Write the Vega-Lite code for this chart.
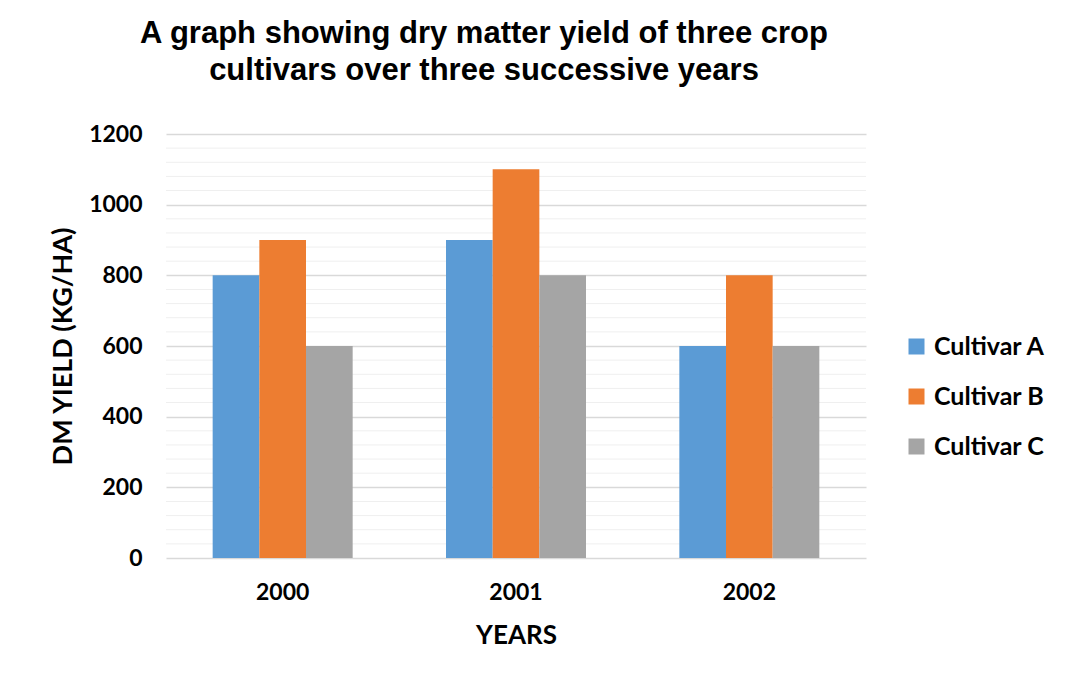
{
  "$schema": "https://vega.github.io/schema/vega-lite/v6.json",
  "width": 700,
  "height": 424,
  "autosize": {"type": "none"},
  "padding": {"left": 166, "top": 134, "right": 206, "bottom": 128},
  "background": "white",
  "title": {
    "text": ["A graph showing dry matter yield of three crop", "cultivars over three successive years"],
    "font": "Liberation Sans",
    "fontSize": 31,
    "fontWeight": "bold",
    "color": "black",
    "anchor": "middle",
    "dx": -32,
    "lineHeight": 37,
    "offset": 36
  },
  "data": {
    "values": [
      {"year": "2000", "cultivar": "Cultivar A", "yield": 800},
      {"year": "2000", "cultivar": "Cultivar B", "yield": 900},
      {"year": "2000", "cultivar": "Cultivar C", "yield": 600},
      {"year": "2001", "cultivar": "Cultivar A", "yield": 900},
      {"year": "2001", "cultivar": "Cultivar B", "yield": 1100},
      {"year": "2001", "cultivar": "Cultivar C", "yield": 800},
      {"year": "2002", "cultivar": "Cultivar A", "yield": 600},
      {"year": "2002", "cultivar": "Cultivar B", "yield": 800},
      {"year": "2002", "cultivar": "Cultivar C", "yield": 600}
    ]
  },
  "layer": [
    {
      "mark": {"type": "rule", "color": "#efefef", "strokeWidth": 1},
      "data": {"values": [{"v": 40}, {"v": 80}, {"v": 120}, {"v": 160}, {"v": 240}, {"v": 280}, {"v": 320}, {"v": 360}, {"v": 440}, {"v": 480}, {"v": 520}, {"v": 560}, {"v": 640}, {"v": 680}, {"v": 720}, {"v": 760}, {"v": 840}, {"v": 880}, {"v": 920}, {"v": 960}, {"v": 1040}, {"v": 1080}, {"v": 1120}, {"v": 1160}]},
      "encoding": {"y": {"field": "v", "type": "quantitative"}}
    },
    {
      "mark": {"type": "bar"},
      "encoding": {
        "x": {
          "field": "year",
          "type": "nominal",
          "scale": {"paddingInner": 0.4, "paddingOuter": 0.2},
          "axis": {
            "title": "YEARS",
            "labelAngle": 0,
            "labelFont": "Lato",
            "labelFontSize": 23,
            "labelFontWeight": "bold",
            "labelColor": "black",
            "labelPadding": 23,
            "ticks": false,
            "domain": false,
            "titleFont": "Lato",
            "titleFontSize": 26,
            "titleFontWeight": "bold",
            "titleColor": "black",
            "titlePadding": 18
          }
        },
        "xOffset": {"field": "cultivar", "type": "nominal"},
        "y": {
          "field": "yield",
          "type": "quantitative",
          "scale": {"domain": [0, 1200]},
          "axis": {
            "title": "DM YIELD (KG/HA)",
            "values": [0, 200, 400, 600, 800, 1000, 1200],
            "format": "d",
            "grid": true,
            "gridColor": "#d9d9d9",
            "gridWidth": 1.5,
            "ticks": false,
            "domain": false,
            "labelFont": "Lato",
            "labelFontSize": 23,
            "labelFontWeight": "bold",
            "labelColor": "black",
            "labelPadding": 24,
            "titleFont": "Lato",
            "titleFontSize": 27,
            "titleFontWeight": "bold",
            "titleColor": "black",
            "titlePadding": 11
          }
        },
        "color": {
          "field": "cultivar",
          "type": "nominal",
          "scale": {"domain": ["Cultivar A", "Cultivar B", "Cultivar C"], "range": ["#5B9BD5", "#ED7D31", "#A5A5A5"]},
          "legend": {
            "title": null,
            "orient": "none",
            "legendX": 738,
            "legendY": 200,
            "symbolType": "square",
            "symbolSize": 256,
            "symbolStrokeWidth": 0,
            "labelFont": "Lato",
            "labelFontSize": 25,
            "labelFontWeight": "bold",
            "labelColor": "black",
            "labelOffset": 5,
            "rowPadding": 24
          }
        }
      }
    }
  ],
  "config": {"view": {"stroke": null}}
}
